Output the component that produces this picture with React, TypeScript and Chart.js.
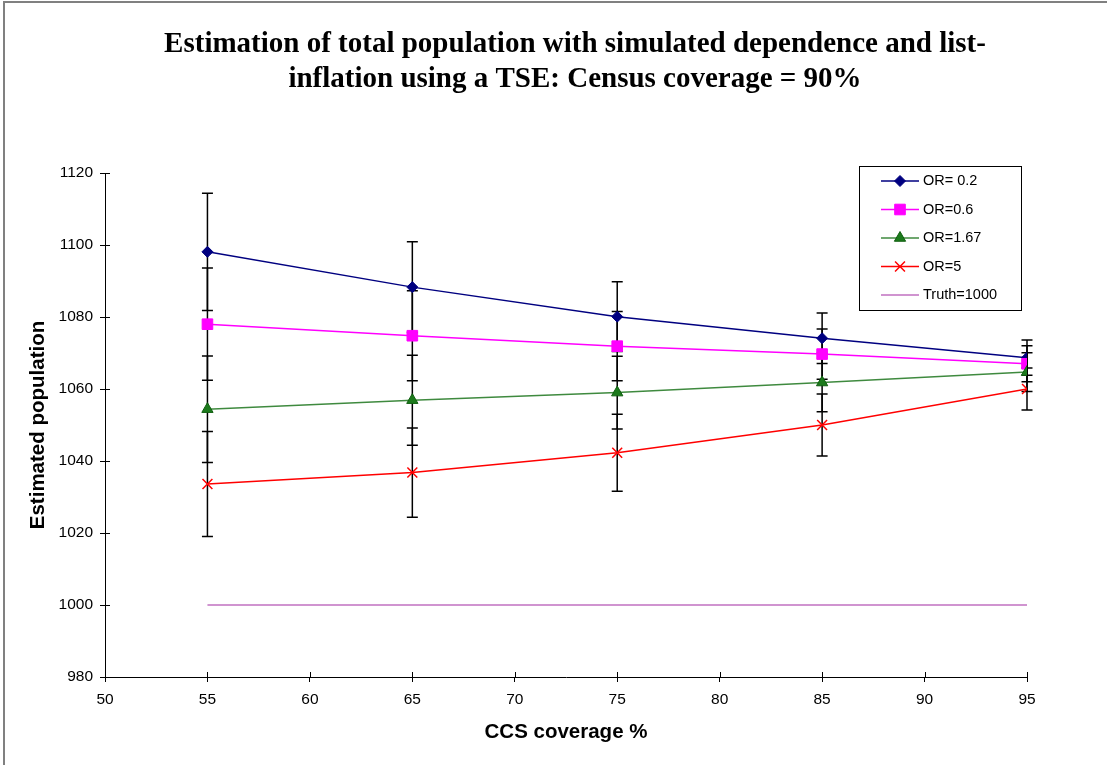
import React, { useEffect, useRef } from 'react';
import { Chart, registerables } from 'chart.js';

Chart.register(...registerables);

// ---- data ----
const coverage = [55, 65, 75, 85, 95];
const or02 = [1098.1, 1088.3, 1080.1, 1074.1, 1068.7];
const or02Err = [16.3, 12.6, 9.7, 7.0, 4.9];
const or06 = [1078.0, 1074.8, 1071.9, 1069.7, 1067.0];
const or06Err = [15.6, 12.5, 9.6, 7.0, 5.0];
const or167 = [1054.4, 1056.9, 1059.0, 1061.8, 1064.7];
const or167Err = [14.8, 12.5, 10.1, 8.1, 5.4];
const or5 = [1033.6, 1036.8, 1042.3, 1050.0, 1060.0];
const or5Err = [14.6, 12.4, 10.7, 8.6, 5.8];
const truth = [1000, 1000, 1000, 1000, 1000];

const seriesNames = ['OR= 0.2', 'OR=0.6', 'OR=1.67', 'OR=5', 'Truth=1000'];
const titleLines = [
  'Estimation of total population with simulated dependence and list-',
  'inflation using a TSE: Census coverage = 90%',
];
const xTitle = 'CCS coverage %';
const yTitle = 'Estimated population';
const xMin = 50, xMax = 95, xStep = 5;
const yMin = 980, yMax = 1120, yStep = 20;

const SANS = '"Liberation Sans", Arial, sans-serif';
const SERIF = '"Liberation Serif", "Times New Roman", serif';

const toPts = (ys: number[]) => coverage.map((x, i) => ({ x, y: ys[i] }));

function drawMarker(ctx: CanvasRenderingContext2D, style: string, x: number, y: number, r: number) {
  ctx.beginPath();
  if (style === 'rectRot') {
    ctx.moveTo(x, y - r);
    ctx.lineTo(x + r, y);
    ctx.lineTo(x, y + r);
    ctx.lineTo(x - r, y);
    ctx.closePath();
    ctx.fill();
    ctx.stroke();
  } else if (style === 'rect') {
    const s = r * Math.SQRT1_2;
    ctx.rect(x - s, y - s, 2 * s, 2 * s);
    ctx.fill();
    ctx.stroke();
  } else if (style === 'triangle') {
    ctx.moveTo(x, y - r);
    ctx.lineTo(x + r * Math.sin(Math.PI / 3), y + r * 0.5);
    ctx.lineTo(x - r * Math.sin(Math.PI / 3), y + r * 0.5);
    ctx.closePath();
    ctx.fill();
    ctx.stroke();
  } else if (style === 'crossRot') {
    const s = r * Math.SQRT1_2;
    ctx.moveTo(x - s, y - s);
    ctx.lineTo(x + s, y + s);
    ctx.moveTo(x - s, y + s);
    ctx.lineTo(x + s, y - s);
    ctx.stroke();
  }
}

const framePlugin = {
  id: 'frame',
  beforeDraw(chart: any) {
    const { ctx, width, height } = chart;
    ctx.save();
    ctx.fillStyle = '#ffffff';
    ctx.fillRect(0, 0, width, height);
    ctx.strokeStyle = '#808080';
    ctx.lineWidth = 2;
    ctx.beginPath();
    ctx.moveTo(4, height + 5);
    ctx.lineTo(4, 2);
    ctx.lineTo(width + 5, 2);
    ctx.stroke();
    ctx.restore();
  },
  afterDraw(chart: any) {
    const { ctx } = chart;
    ctx.save();
    ctx.fillStyle = '#000';
    ctx.font = `bold 29px ${SERIF}`;
    ctx.textAlign = 'center';
    ctx.textBaseline = 'middle';
    ctx.fillText(titleLines[0], 575, 45);
    ctx.fillText(titleLines[1], 575, 80);
    ctx.restore();
  },
};

const innerTicksPlugin = {
  id: 'innerTicks',
  afterDraw(chart: any) {
    const { ctx, chartArea, scales } = chart;
    ctx.save();
    ctx.strokeStyle = '#000';
    ctx.lineWidth = 1;
    ctx.beginPath();
    scales.x.ticks.forEach((t: any) => {
      const px = Math.round(scales.x.getPixelForValue(t.value)) + 0.5;
      ctx.moveTo(px, chartArea.bottom);
      ctx.lineTo(px, chartArea.bottom - 5);
    });
    scales.y.ticks.forEach((t: any) => {
      const py = Math.round(scales.y.getPixelForValue(t.value)) + 0.5;
      ctx.moveTo(chartArea.left, py);
      ctx.lineTo(chartArea.left + 5, py);
    });
    ctx.stroke();
    ctx.restore();
  },
};

const errorBarPlugin = {
  id: 'errorBars',
  beforeDatasetsDraw(chart: any) {
    const { ctx, scales } = chart;
    ctx.save();
    ctx.strokeStyle = '#000';
    ctx.lineWidth = 1.5;
    chart.data.datasets.forEach((ds: any) => {
      if (!ds.errors) return;
      ds.data.forEach((p: any, i: number) => {
        const e = ds.errors[i];
        const px = scales.x.getPixelForValue(p.x);
        const top = scales.y.getPixelForValue(p.y + e);
        const bot = scales.y.getPixelForValue(p.y - e);
        ctx.beginPath();
        ctx.moveTo(px, top);
        ctx.lineTo(px, bot);
        ctx.moveTo(px - 5.5, top);
        ctx.lineTo(px + 5.5, top);
        ctx.moveTo(px - 5.5, bot);
        ctx.lineTo(px + 5.5, bot);
        ctx.stroke();
      });
    });
    ctx.restore();
  },
};

const legendPlugin = {
  id: 'customLegend',
  afterDraw(chart: any) {
    const { ctx } = chart;
    const bx = 859.5, by = 166.5, bw = 162, bh = 144;
    ctx.save();
    ctx.fillStyle = '#fff';
    ctx.fillRect(bx, by, bw, bh);
    ctx.strokeStyle = '#000';
    ctx.lineWidth = 1;
    ctx.strokeRect(bx, by, bw, bh);
    const rowY = [181, 209.5, 238, 266.5, 295];
    chart.data.datasets.forEach((ds: any, i: number) => {
      const y = rowY[i];
      ctx.strokeStyle = ds.borderColor;
      ctx.lineWidth = 1.5;
      ctx.beginPath();
      ctx.moveTo(881, y);
      ctx.lineTo(919, y);
      ctx.stroke();
      if (ds.pointStyle && ds.pointRadius > 0) {
        ctx.fillStyle = ds.pointBackgroundColor;
        ctx.strokeStyle = ds.pointBorderColor;
        ctx.lineWidth = ds.pointBorderWidth;
        drawMarker(ctx, ds.pointStyle, 900, y, ds.pointRadius);
      }
      ctx.fillStyle = '#000';
      ctx.font = `14.5px ${SANS}`;
      ctx.textAlign = 'left';
      ctx.textBaseline = 'middle';
      ctx.fillText(ds.label, 923, y);
    });
    ctx.restore();
  },
};

export default function App() {
  const ref = useRef<HTMLCanvasElement>(null);
  useEffect(() => {
    if (!ref.current) return;
    const mk = (label: string, ys: number[], errs: number[] | null, color: string, mcolor: string, mborder: string, style: any, radius: number, order: number) => ({
      label,
      data: toPts(ys),
      errors: errs,
      borderColor: color,
      backgroundColor: mcolor,
      pointBackgroundColor: mcolor,
      pointBorderColor: mborder,
      pointBorderWidth: style === 'crossRot' ? 1.5 : 1,
      pointStyle: style,
      pointRadius: radius,
      pointHoverRadius: radius,
      borderWidth: 1.5,
      showLine: true,
      tension: 0,
      order,
    });
    const datasets: any[] = [
      mk(seriesNames[0], or02, or02Err, '#000080', '#000080', '#000080', 'rectRot', 5.5, 5),
      mk(seriesNames[1], or06, or06Err, '#FF00FF', '#FF00FF', '#FF00FF', 'rect', 7.5, 4),
      mk(seriesNames[2], or167, or167Err, '#3F8A3F', '#1C7A1C', '#0F5F0F', 'triangle', 6.5, 3),
      mk(seriesNames[3], or5, or5Err, '#FF0000', '#FF0000', '#FF0000', 'crossRot', 7, 2),
      mk(seriesNames[4], truth, null, '#C070C0', '#C070C0', '#C070C0', false, 0, 1),
    ];
    const chart = new Chart(ref.current, {
      type: 'scatter',
      data: { datasets },
      options: {
        animation: false,
        responsive: false,
        devicePixelRatio: 1,
        layout: { padding: { top: 173, left: 0, right: 80, bottom: 0 } },
        plugins: { legend: { display: false }, title: { display: false }, tooltip: { enabled: false } },
        scales: {
          x: {
            type: 'linear',
            min: xMin,
            max: xMax,
            ticks: { stepSize: xStep, color: '#000', font: { family: SANS, size: 15.5 }, padding: 8, maxRotation: 0, callback: (v: any) => String(v) },
            grid: { drawOnChartArea: false, tickLength: 5, tickColor: '#000', color: '#000' },
            border: { color: '#000', width: 1 },
            title: { display: true, text: xTitle, color: '#000', font: { family: SANS, size: 20.5, weight: 'bold' }, padding: { top: 0, bottom: 20 } },
            afterFit: (s: any) => { s.height = 88; },
          },
          y: {
            type: 'linear',
            min: yMin,
            max: yMax,
            ticks: { stepSize: yStep, color: '#000', font: { family: SANS, size: 15.5 }, padding: 7, callback: (v: any) => String(v) },
            grid: { drawOnChartArea: false, tickLength: 5, tickColor: '#000', color: '#000' },
            border: { color: '#000', width: 1 },
            title: { display: true, text: yTitle, color: '#000', font: { family: SANS, size: 20.5, weight: 'bold' }, padding: { top: 26, bottom: 0 } },
            afterFit: (s: any) => { s.width = 105; },
          },
        },
      } as any,
      plugins: [framePlugin, innerTicksPlugin, errorBarPlugin, legendPlugin],
    });
    return () => chart.destroy();
  }, []);
  return (
    <div style={{ position: 'absolute', left: 0, top: 0, width: 1107, height: 765, background: '#fff' }}>
      <canvas ref={ref} width={1107} height={765} style={{ width: 1107, height: 765, display: 'block' }} />
    </div>
  );
}
